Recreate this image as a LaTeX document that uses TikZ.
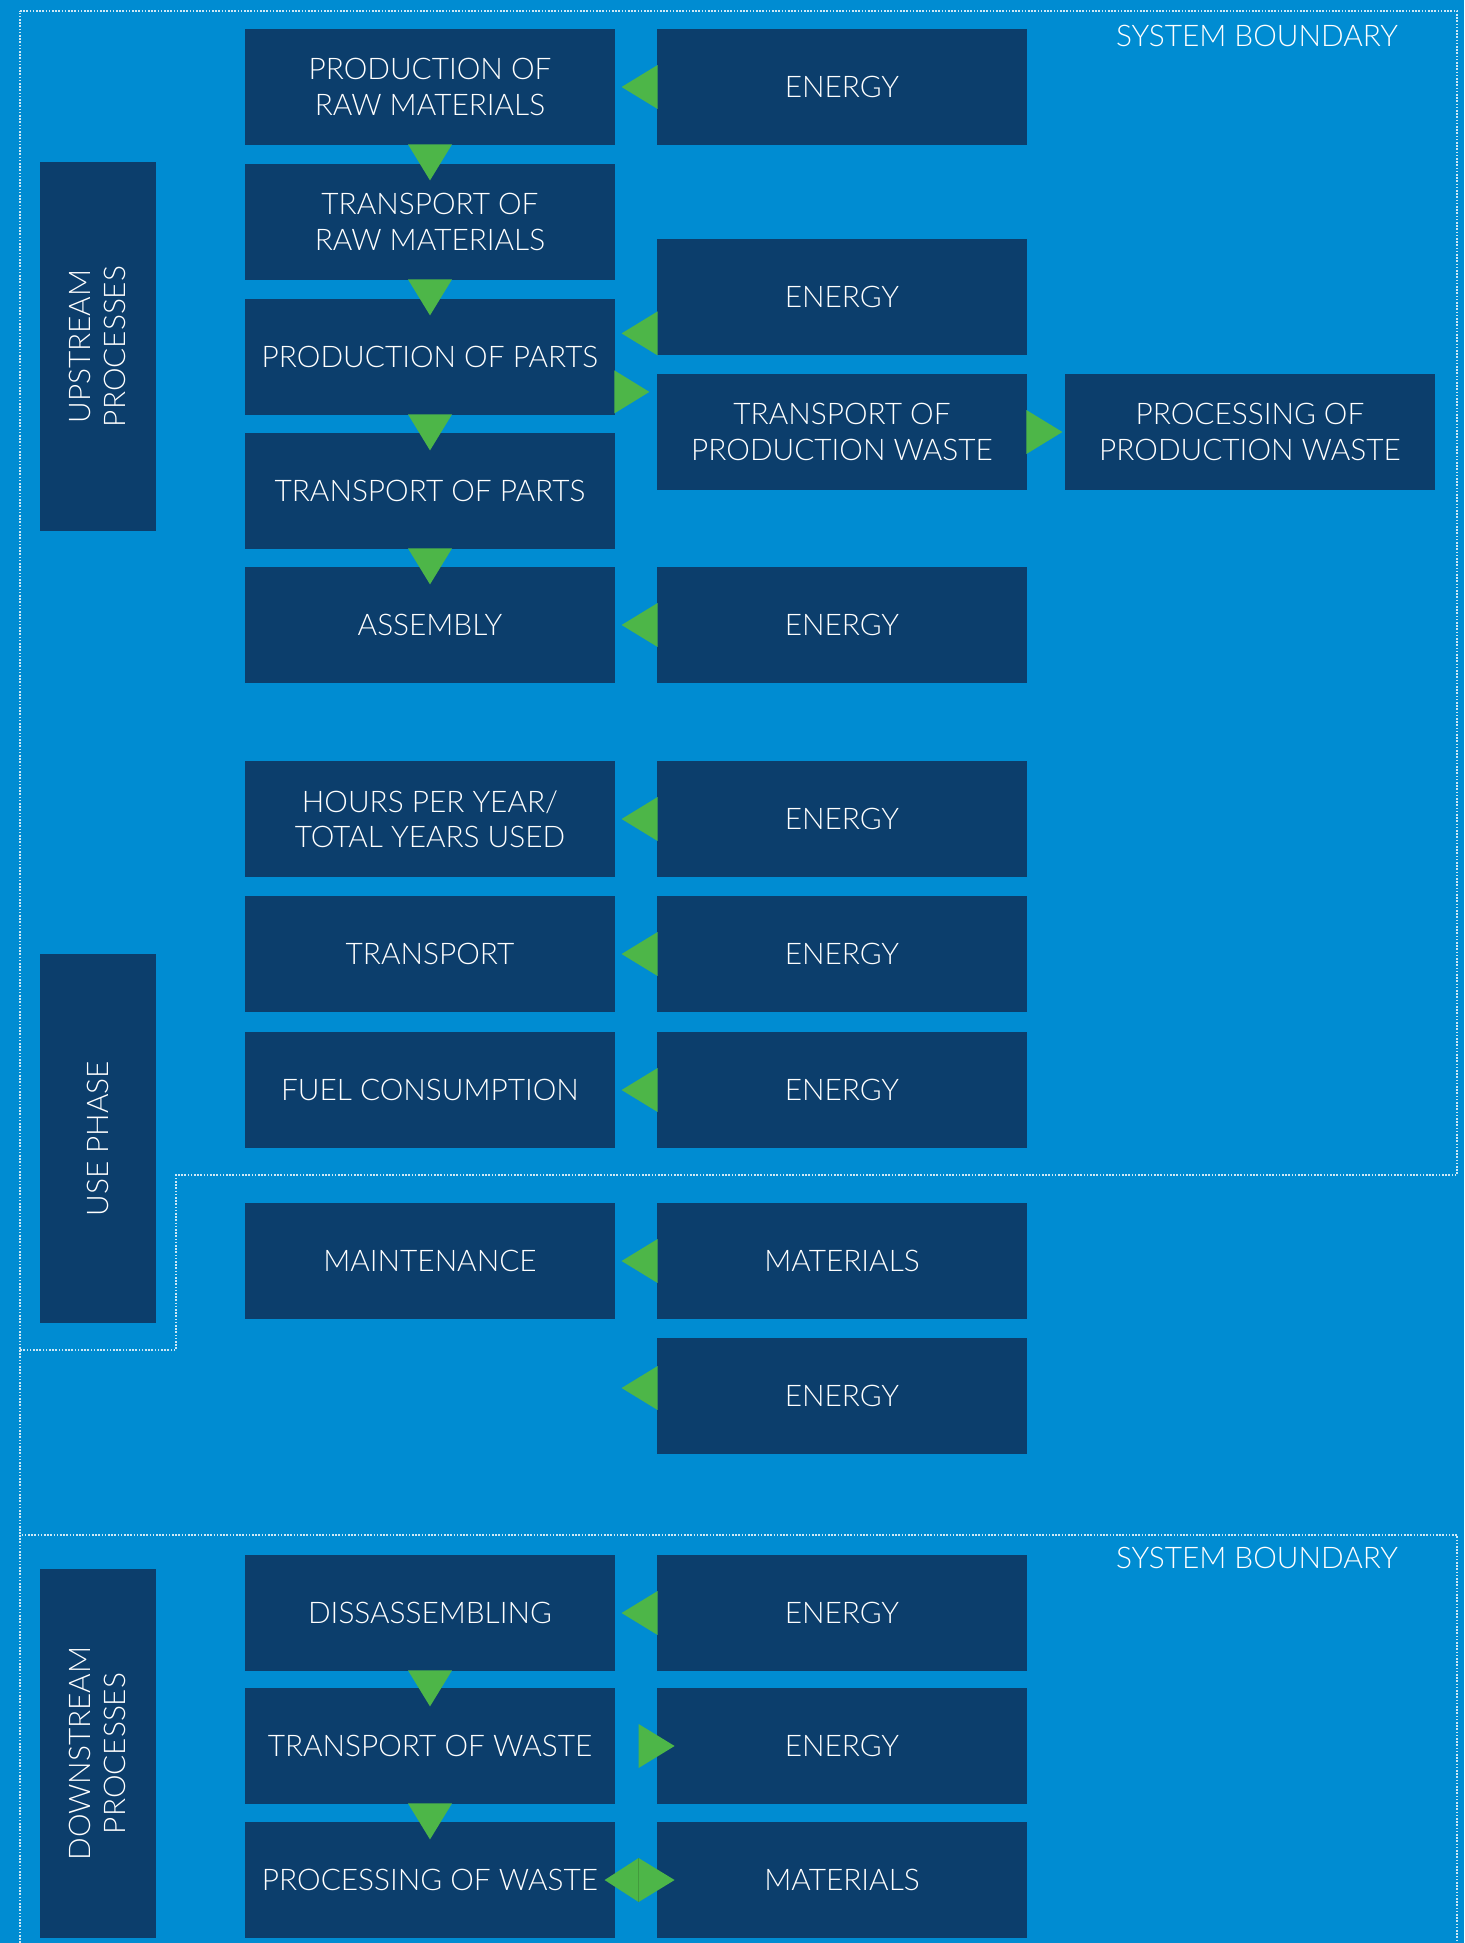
\documentclass[tikz,border=0pt]{standalone}
\usepackage{fontspec}
\setmainfont{Lato}[UprightFont={* Light}]
\usetikzlibrary{calc}
\definecolor{bgblue}{RGB}{0,140,210}
\definecolor{boxblue}{RGB}{12,62,108}
\definecolor{arrowgreen}{RGB}{77,182,72}
\newcommand{\boxfont}{\fontsize{14.9pt}{17.6pt}\selectfont}
\begin{document}
\begin{tikzpicture}[x=0.5pt,y=-0.5pt,
  box/.style={fill=boxblue, text=white, minimum width=185pt, minimum height=58pt, inner sep=0pt, align=center, font=\boxfont},
  sidebox/.style={fill=boxblue, minimum width=58pt, minimum height=184.5pt, inner sep=0pt},
  sidetext/.style={text=white, rotate=90, align=center, inner sep=0pt, font=\boxfont},
  bound/.style={draw=white!80!bgblue, line width=0.8pt, dash pattern=on 0.8pt off 0.8pt},
  tri/.style={fill=arrowgreen},
  lbl/.style={text=white, inner sep=0pt, font=\boxfont}]
\useasboundingbox (0,0) rectangle (1464,1943);
\fill[bgblue] (0,0) rectangle (1464,1943);

% system boundaries
\draw[bound] (20,11) -- (1457,11) -- (1457,1175) -- (176,1175) -- (176,1350) -- (20,1350) -- cycle;
\draw[bound] (20,1350) -- (20,1535);
\draw[bound] (20,1943) -- (20,1535) -- (1457,1535) -- (1457,1943);
\node[lbl] (sb1) at (1257,36) {SYSTEM BOUNDARY};
\node[lbl] (sb2) at (1257,1558) {SYSTEM BOUNDARY};

% phase labels
\node[sidebox] (up) at (97.5,346.5) {};
\node[sidetext] at (up.center) {UPSTREAM\\PROCESSES};
\node[sidebox] (use) at (97.5,1138.5) {};
\node[sidetext] at (use.center) {USE PHASE};
\node[sidebox] (down) at (97.5,1753.5) {};
\node[sidetext] at (down.center) {DOWNSTREAM\\PROCESSES};

% upstream
\node[box] (p1) at (430,87) {PRODUCTION OF\\RAW MATERIALS};
\node[box] (p2) at (430,222) {TRANSPORT OF\\RAW MATERIALS};
\node[box] (p3) at (430,357) {PRODUCTION OF PARTS};
\node[box] (p4) at (430,491) {TRANSPORT OF PARTS};
\node[box] (p5) at (430,625) {ASSEMBLY};
\node[box] (e1) at (842,87) {ENERGY};
\node[box] (e2) at (842,297) {ENERGY};
\node[box] (tpw) at (842,432) {TRANSPORT OF\\PRODUCTION WASTE};
\node[box] (ppw) at (1250,432) {PROCESSING OF\\PRODUCTION WASTE};
\node[box] (e5) at (842,625) {ENERGY};

% use phase
\node[box] (u1) at (430,819) {HOURS PER YEAR/\\TOTAL YEARS USED};
\node[box] (u2) at (430,954) {TRANSPORT};
\node[box] (u3) at (430,1090) {FUEL CONSUMPTION};
\node[box] (u4) at (430,1261) {MAINTENANCE};
\node[box] (eu1) at (842,819) {ENERGY};
\node[box] (eu2) at (842,954) {ENERGY};
\node[box] (eu3) at (842,1090) {ENERGY};
\node[box] (mu4) at (842,1261) {MATERIALS};
\node[box] (eu5) at (842,1396) {ENERGY};

% downstream
\node[box] (d1) at (430,1613) {DISSASSEMBLING};
\node[box] (d2) at (430,1746) {TRANSPORT OF WASTE};
\node[box] (d3) at (430,1880) {PROCESSING OF WASTE};
\node[box] (ed1) at (842,1613) {ENERGY};
\node[box] (ed2) at (842,1746) {ENERGY};
\node[box] (md3) at (842,1880) {MATERIALS};

% down arrows
\foreach \n in {p1,p2,p3,p4,d1,d2}{
  \fill[tri] (\n.south) +(-22,-1) -- +(22,-1) -- +(0,35) -- cycle;
}
% left arrows (energy/materials into process)
\foreach \n in {e1,e5,eu1,eu2,eu3,mu4,ed1}{
  \fill[tri] (\n.west) +(1,-22) -- +(-35,0) -- +(1,22) -- cycle;
}
\fill[tri] (e2.south west) +(1,-44) -- +(-35,-22) -- +(1,0) -- cycle;
\fill[tri] (eu5.west) +(1,-30) -- +(-35,-8) -- +(1,14) -- cycle;
% right arrows
\fill[tri] (p3.south east) +(-1,-45) -- +(34,-23.5) -- +(-1,-2) -- cycle;
\fill[tri] (tpw.east) +(-1,-22) -- +(35,0) -- +(-1,22) -- cycle;
\fill[tri] (ed2.west) +(-18,-22) -- +(18,0) -- +(-18,22) -- cycle;
% double arrow
\fill[tri] (md3.west) +(-18,-22) -- +(-52,0) -- +(-18,22) -- cycle;
\fill[tri] (md3.west) +(-18,-22) -- +(18,0) -- +(-18,22) -- cycle;
\draw[arrowgreen!85!black, line width=0.3pt] ($(md3.west)+(-18,-22)$) -- ($(md3.west)+(-18,22)$);
\end{tikzpicture}
\end{document}
